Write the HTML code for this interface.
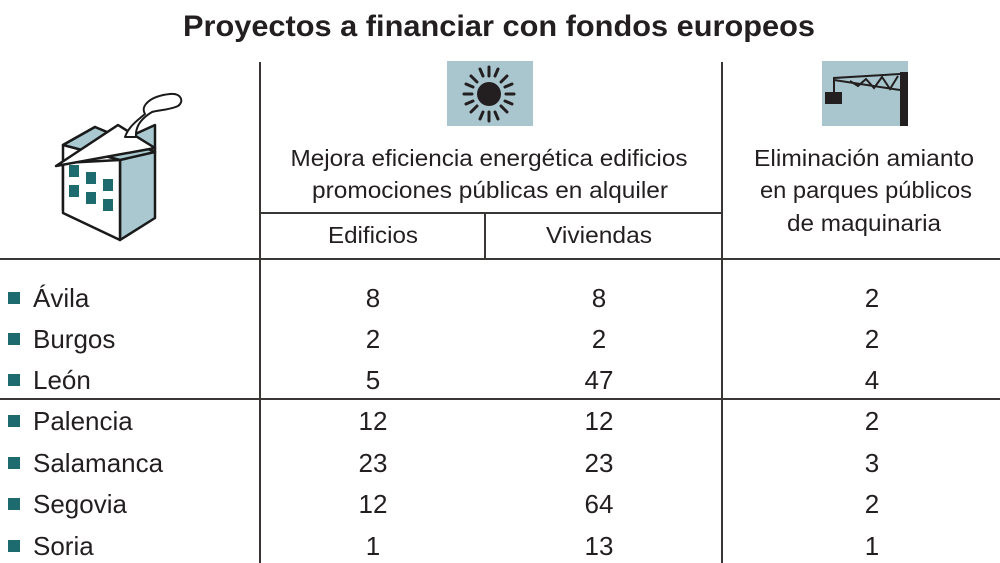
<!DOCTYPE html>
<html><head><meta charset="utf-8"><style>
html,body{margin:0;padding:0;background:#fff;}
svg{display:block;font-family:"Liberation Sans",sans-serif;}
</style></head><body>
<svg width="1000" height="563" viewBox="0 0 1000 563" xmlns="http://www.w3.org/2000/svg">
<rect width="1000" height="563" fill="#fff"/>
<text x="499" y="36" font-size="30" font-weight="bold" fill="#231f20" text-anchor="middle" textLength="632" lengthAdjust="spacingAndGlyphs">Proyectos a financiar con fondos europeos</text>
<!-- lines -->
<g stroke="#3a3635" stroke-width="2">
<line x1="260" y1="62" x2="260" y2="563"/>
<line x1="722" y1="62" x2="722" y2="563"/>
<line x1="485" y1="214" x2="485" y2="259"/>
<line x1="260" y1="213" x2="722" y2="213"/>
<line x1="0" y1="259" x2="1000" y2="259"/>
<line x1="0" y1="399" x2="1000" y2="399"/>
</g>
<!-- house icon -->
<g stroke="#1a1a1a" stroke-width="2.5" stroke-linejoin="round">
<polygon points="63,145 95,127 120,141 120,232 63,210" fill="#fff"/>
<polygon points="120,141 155,125 155,218 120,240" fill="#a9c8d0"/>
<polygon points="63,145 95,127 155,152 120,160" fill="#a9c8d0"/>
<polygon points="120,160 120,240 63,213 63,163" fill="#fff"/>
<polygon points="56,166 118,125 155,148" fill="#fff"/>
<path d="M125,137 C128,128 135,122 145,114 C140,106 150,96 170,94 C182,93 184,102 178,106 C170,110 158,110 152,112 C142,118 135,126 136,137 Z" fill="#fff" stroke-width="2"/>
</g>
<g fill="#1d6b6e">
<rect x="69" y="165" width="10" height="12"/><rect x="86" y="172" width="10" height="12"/><rect x="103" y="179" width="10" height="12"/>
<rect x="69" y="185" width="10" height="12"/><rect x="86" y="192" width="10" height="12"/><rect x="103" y="199" width="10" height="12"/>
</g>
<!-- sun -->
<rect x="447" y="61" width="86" height="65" fill="#a9c5cd"/>
<circle cx="489" cy="94" r="12" fill="#231f20"/>
<g stroke="#231f20" stroke-width="3" stroke-linecap="round">
<line x1="489" y1="67" x2="489" y2="76"/><line x1="489" y1="112" x2="489" y2="121"/>
<line x1="464" y1="94" x2="472" y2="94"/><line x1="506" y1="94" x2="514" y2="94"/>
<line x1="471" y1="76" x2="477" y2="82"/><line x1="501" y1="106" x2="507" y2="112"/>
<line x1="507" y1="76" x2="501" y2="82"/><line x1="477" y1="106" x2="471" y2="112"/>
<line x1="480" y1="69" x2="483" y2="76"/><line x1="495" y1="112" x2="498" y2="119"/>
<line x1="498" y1="69" x2="495" y2="76"/><line x1="483" y1="112" x2="480" y2="119"/>
<line x1="466" y1="84" x2="473" y2="87"/><line x1="505" y1="101" x2="512" y2="104"/>
<line x1="512" y1="84" x2="505" y2="87"/><line x1="473" y1="101" x2="466" y2="104"/>
</g>
<!-- crane -->
<rect x="822" y="61" width="86" height="65" fill="#a9c5cd"/>
<rect x="900" y="72" width="8" height="54" fill="#231f20"/>
<g stroke="#231f20" stroke-width="2" fill="none">
<polyline points="834,92 834,78 900,74"/><line x1="834" y1="80" x2="900" y2="90"/>
<polyline points="850,81 858,86 866,79 874,88 882,77 890,89 898,76"/>
</g>
<rect x="825" y="92" width="17" height="12" fill="#231f20"/>
<!-- headers -->
<g font-size="23" fill="#231f20" text-anchor="middle">
<text x="489" y="166" textLength="397" lengthAdjust="spacingAndGlyphs">Mejora eficiencia energética edificios</text>
<text x="490" y="198" textLength="356" lengthAdjust="spacingAndGlyphs">promociones públicas en alquiler</text>
<text x="373" y="243" textLength="90" lengthAdjust="spacingAndGlyphs">Edificios</text>
<text x="599" y="243" textLength="106" lengthAdjust="spacingAndGlyphs">Viviendas</text>
<text x="864" y="166" textLength="220" lengthAdjust="spacingAndGlyphs">Eliminación amianto</text>
<text x="866" y="198" textLength="212" lengthAdjust="spacingAndGlyphs">en parques públicos</text>
<text x="864" y="231" textLength="154" lengthAdjust="spacingAndGlyphs">de maquinaria</text>
</g>
<!-- rows -->
<g fill="#1d6b6e">
<rect x="8" y="292" width="12" height="12"/><rect x="8" y="333" width="12" height="12"/><rect x="8" y="374" width="12" height="12"/>
<rect x="8" y="415" width="12" height="12"/><rect x="8" y="457" width="12" height="12"/><rect x="8" y="498" width="12" height="12"/><rect x="8" y="540" width="12" height="12"/>
</g>
<g font-size="26" fill="#231f20">
<text x="33" y="307">Ávila</text>
<text x="33" y="348">Burgos</text>
<text x="33" y="389">León</text>
<text x="33" y="430">Palencia</text>
<text x="33" y="472">Salamanca</text>
<text x="33" y="513">Segovia</text>
<text x="33" y="555">Soria</text>
</g>
<g font-size="26" fill="#231f20" text-anchor="middle">
<text x="373" y="307">8</text><text x="599" y="307">8</text><text x="872" y="307">2</text>
<text x="373" y="348">2</text><text x="599" y="348">2</text><text x="872" y="348">2</text>
<text x="373" y="389">5</text><text x="599" y="389">47</text><text x="872" y="389">4</text>
<text x="373" y="430">12</text><text x="599" y="430">12</text><text x="872" y="430">2</text>
<text x="373" y="472">23</text><text x="599" y="472">23</text><text x="872" y="472">3</text>
<text x="373" y="513">12</text><text x="599" y="513">64</text><text x="872" y="513">2</text>
<text x="373" y="555">1</text><text x="599" y="555">13</text><text x="872" y="555">1</text>
</g>
</svg>
</body></html>
